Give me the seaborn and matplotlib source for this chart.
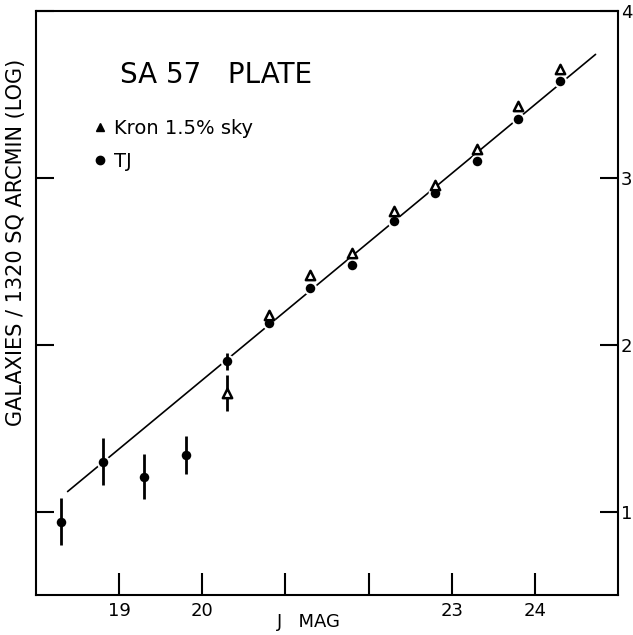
import numpy as np
import pandas as pd
import seaborn as sns
import matplotlib.pyplot as plt
from matplotlib.lines import Line2D

# Datos
jmag_tj = [18.3, 18.8, 19.3, 19.8, 20.3, 20.8, 21.3, 21.8, 22.3, 22.8, 23.3, 23.8, 24.3]
logn_tj = [0.94, 1.30, 1.21, 1.34, 1.90, 2.13, 2.34, 2.48, 2.74, 2.91, 3.10, 3.35, 3.58]
err_tj = [0.14, 0.14, 0.135, 0.115, 0.05, 0, 0, 0, 0, 0, 0, 0, 0]

jmag_kron = [20.3, 20.8, 21.3, 21.8, 22.3, 22.8, 23.3, 23.8, 24.3]
logn_kron = [1.71, 2.18, 2.42, 2.55, 2.80, 2.96, 3.17, 3.43, 3.65]
err_kron = [0.11, 0, 0, 0, 0, 0, 0, 0, 0]

# recta ajustada (extremos)
jmag_fit = [18.38, 24.73]
logn_fit = [1.12, 3.74]

xticks = [19, 20, 21, 22, 23, 24]
xticklabels = ['19', '20', '', '', '23', '24']
yticks = [1, 2, 3, 4]

tj = pd.DataFrame({'jmag': jmag_tj, 'logn': logn_tj, 'err': err_tj})
kron = pd.DataFrame({'jmag': jmag_kron, 'logn': logn_kron, 'err': err_kron})
fit = pd.DataFrame({'jmag': jmag_fit, 'logn': logn_fit})

sns.set_theme(style='white')
plt.rcParams['font.family'] = ['DejaVu Sans']
plt.rcParams['text.color'] = 'black'
plt.rcParams['axes.labelcolor'] = 'black'

fig = plt.figure(figsize=(6.33, 6.35), dpi=100)
ax = fig.add_axes([36/633, 1 - 595/635, 582/633, 584/635])

sns.lineplot(data=fit, x='jmag', y='logn', color='black', linewidth=1.2, ax=ax, zorder=1)

# barras de error
sel = tj[tj['err'] > 0]
ax.errorbar(sel['jmag'], sel['logn'], yerr=sel['err'], fmt='none',
            ecolor='black', elinewidth=2.0, capsize=0, zorder=4)
selk = kron[kron['err'] > 0]
ax.errorbar(selk['jmag'], selk['logn'], yerr=selk['err'], fmt='none',
            ecolor='black', elinewidth=2.0, capsize=0, zorder=4)

sns.scatterplot(data=tj, x='jmag', y='logn', marker='o', s=70, color='black',
                edgecolor='white', linewidth=1.5, ax=ax, zorder=3)
sns.scatterplot(data=kron, x='jmag', y='logn', marker='^', s=45, color='white',
                edgecolor='black', linewidth=1.8, ax=ax, zorder=5)

ax.set_xlim(18, 25)
ax.set_ylim(0.5, 4.0)
ax.set_xticks(xticks)
ax.set_xticklabels(xticklabels)
ax.set_yticks(yticks)
ax.tick_params(axis='x', direction='in', length=16, width=1.5, pad=5,
               labelsize=13, bottom=True, top=False, colors='black')
ax.tick_params(axis='y', direction='in', length=13, width=1.5, pad=2,
               labelsize=13, left=True, right=True, labelleft=False,
               labelright=True, colors='black')
for s in ax.spines.values():
    s.set_color('black')
    s.set_linewidth(1.5)

ax.set_xlabel('J   MAG', fontsize=13)
ax.xaxis.set_label_coords(0.469, -0.031)
ax.set_ylabel('GALAXIES / 1320 SQ ARCMIN (LOG)', fontsize=15)
ax.yaxis.set_label_coords(-0.018, 0.603)

ax.text(0.144, 0.890, 'SA 57   PLATE', transform=ax.transAxes, fontsize=20,
        ha='left', va='center')

handles = [
    Line2D([], [], marker='^', color='black', linestyle='none', markersize=6),
    Line2D([], [], marker='o', color='black', linestyle='none', markersize=6),
]
ax.legend(handles, ['Kron 1.5% sky', 'TJ'], loc='upper left',
          bbox_to_anchor=(0.10, 0.815), frameon=False, fontsize=14,
          handlelength=0.6, handletextpad=0.4, labelspacing=0.7, borderpad=0,
          borderaxespad=0, labelcolor='black')

fig.savefig('out.png', dpi=100)
